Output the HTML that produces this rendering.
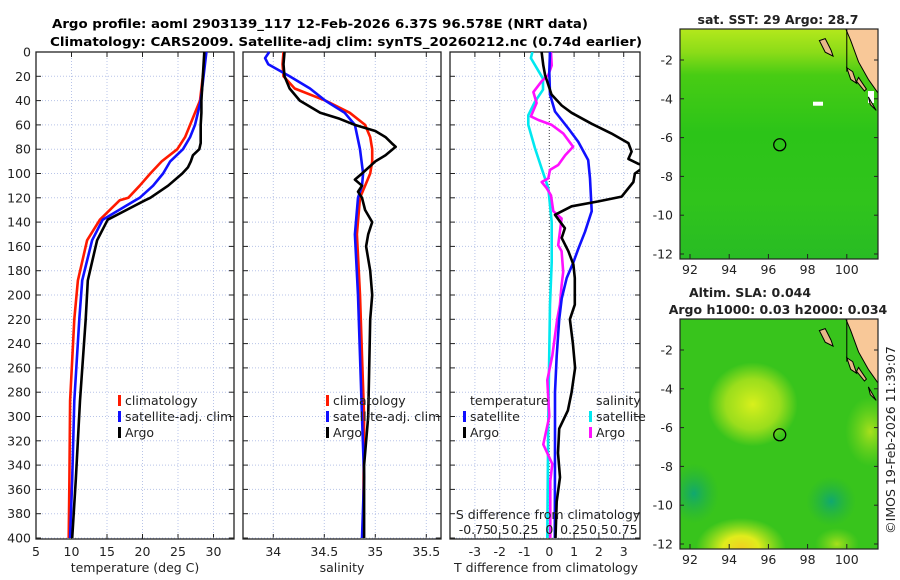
<!DOCTYPE html>
<html><head><meta charset="utf-8">
<style>
html,body{margin:0;padding:0;background:#fff;}
svg{display:block;font-family:"DejaVu Sans","Liberation Sans",sans-serif;}
</style></head>
<body>
<svg id="fig" width="900" height="580" viewBox="0 0 900 580" xmlns="http://www.w3.org/2000/svg">
<defs>
<linearGradient id="sstGrad" x1="0" y1="0" x2="0" y2="1">
<stop offset="0" stop-color="#b4e81c"/><stop offset="0.1" stop-color="#8cdc18"/>
<stop offset="0.2" stop-color="#48cc14"/><stop offset="0.45" stop-color="#2cc418"/>
<stop offset="0.75" stop-color="#30c41c"/><stop offset="1" stop-color="#28bc24"/>
</linearGradient>
<radialGradient id="blobA" cx="0.5" cy="0.5" r="0.5"><stop offset="0" stop-color="#d8f01c"/><stop offset="0.6" stop-color="#b4e41c" stop-opacity="0.8"/><stop offset="1" stop-color="#b4e41c" stop-opacity="0"/></radialGradient>
<radialGradient id="blobB" cx="0.5" cy="0.5" r="0.5"><stop offset="0" stop-color="#f0d020"/><stop offset="0.4" stop-color="#e0ec1c"/><stop offset="1" stop-color="#c0e81c" stop-opacity="0"/></radialGradient>
<radialGradient id="blobC" cx="0.5" cy="0.5" r="0.5"><stop offset="0" stop-color="#10a870"/><stop offset="1" stop-color="#20b040" stop-opacity="0"/></radialGradient>
<radialGradient id="blobD" cx="0.5" cy="0.5" r="0.5"><stop offset="0" stop-color="#a8e01c"/><stop offset="1" stop-color="#80d81c" stop-opacity="0"/></radialGradient>
<clipPath id="clipTop"><rect x="680" y="29" width="198" height="230"/></clipPath>
<clipPath id="clipBot"><rect x="680" y="319" width="198" height="230"/></clipPath>
<clipPath id="clipP3"><rect x="450" y="52" width="190" height="487"/></clipPath>
</defs>
<text x="320" y="28" text-anchor="middle" font-size="12.6" font-weight="bold" textLength="536" lengthAdjust="spacingAndGlyphs">Argo profile: aoml 2903139_117 12-Feb-2026 6.37S 96.578E (NRT data)</text>
<text x="346" y="46" text-anchor="middle" font-size="12.6" font-weight="bold" textLength="592" lengthAdjust="spacingAndGlyphs">Climatology: CARS2009. Satellite-adj clim: synTS_20260212.nc (0.74d earlier)</text>
<g id="layer"></g>
<text transform="translate(895,440) rotate(-90)" text-anchor="middle" font-size="12.5" fill="#222">©IMOS 19-Feb-2026 11:39:07</text>
</svg>
<script>
// ---------- data ----------
const depthTemp = [0,40,50,60,70,75,80,85,90,95,100,110,120,122,138,155,188,220,287,352,400];
const tempArgo  = [28.7,28.3,28.3,28.2,28.2,28.2,28.0,27.1,26.8,26.4,25.6,23.6,21.1,20.4,15.1,13.6,12.3,12.0,11.2,10.6,10.1];
const depthClim = [0,40,50,60,70,80,90,100,110,120,122,138,155,188,220,287,352,400];
const tempClim  = [28.9,28.1,27.4,26.7,26.0,24.9,22.7,21.1,19.6,18.0,16.8,14.0,12.2,10.9,10.4,9.8,9.7,9.6];
const tempSat   = [29.0,28.2,27.8,27.4,26.7,25.7,23.9,22.9,21.5,19.6,19.0,14.4,12.9,11.5,11.1,10.4,10.1,9.8];

const depthSArgo = [0,10,20,30,40,50,55,60,65,70,75,78,85,90,100,105,110,115,120,130,140,150,160,180,200,220,260,300,340,400];
const salArgo    = [34.11,34.10,34.11,34.16,34.26,34.46,34.65,34.80,35.00,35.10,35.16,35.20,35.10,35.00,34.87,34.80,34.87,34.83,34.87,34.90,34.97,34.93,34.91,34.95,34.97,34.95,34.94,34.93,34.89,34.89];
const depthSClim = [0,10,20,30,40,50,60,70,80,90,100,110,120,150,200,250,300,400];
const salClim    = [34.10,34.09,34.10,34.21,34.51,34.75,34.90,34.95,34.97,34.97,34.95,34.90,34.85,34.82,34.85,34.87,34.89,34.88];
const depthSSat  = [0,5,10,20,30,40,50,60,80,100,110,120,150,200,250,300,350,400];
const salSat     = [33.96,33.92,33.95,34.16,34.36,34.51,34.70,34.80,34.85,34.88,34.87,34.83,34.80,34.83,34.85,34.87,34.89,34.87];

const depthDTArgo = [0,11,19,35,44,50,59,67,75,82,88,92,94,100,107,119,123,127,134,145,153,164,175,186,208,220,240,260,280,295,310,330,350,370,400];
const dTArgo      = [-0.31,-0.24,-0.17,0.09,0.5,0.9,1.7,2.5,3.19,3.32,3.19,3.59,3.86,3.45,3.39,2.92,1.98,0.9,0.23,0.63,0.5,0.77,0.97,1.03,1.03,0.83,0.95,1.04,0.9,0.75,0.4,0.35,0.43,0.3,0.25];
const depthDTSat  = [0,16,35,49,63,74,89,104,131,148,162,173,186,203,220,250,280,320,400];
const dTSat       = [0.03,0,0.03,0.23,0.77,1.17,1.57,1.64,1.71,1.44,1.17,0.97,0.7,0.5,0.4,0.3,0.23,0.23,0.22];
const depthDSSat  = [0,5,13,22,31,41,52,60,79,96,112,140,173,208,300,400];
const dSSat       = [-0.17,-0.185,-0.128,-0.064,-0.064,-0.145,-0.212,-0.212,-0.145,-0.077,-0.01,0.024,0.024,0.007,-0.01,-0.02];
const depthDSArgo = [0,11,19,24,33,42,53,56,60,67,78,85,93,97,104,107,112,118,131,137,148,159,164,181,192,208,220,250,270,300,323,339,353,400];
const dSArgo      = [0.017,0.024,-0.01,-0.077,-0.16,-0.128,-0.185,-0.11,0.024,0.14,0.24,0.16,0.09,0.007,-0.01,-0.077,-0.027,0.017,0.04,0.124,0.107,0.09,0.124,0.14,0.124,0.107,0.08,0.03,-0.02,0.0,-0.06,0.03,0.01,0.01];

const depthTicks = [0,20,40,60,80,100,120,140,160,180,200,220,240,260,280,300,320,340,360,380,400];
const tempTicks = [5,10,15,20,25,30];
const salTicks = [34,34.5,35,35.5];
const dTTicks = [-3,-2,-1,0,1,2,3];
const dSTickLabels = ["-0.75","0.5","0.25","0","0.25","0.5","0.75"];
const dSTickVals = [-0.75,-0.5,-0.25,0,0.25,0.5,0.75];
const lonTicks = [92,94,96,98,100];
const latTicks = [-2,-4,-6,-8,-10,-12];
const argoLon = 96.578, argoLat = -6.37;

// ---------- scales ----------
const NS="http://www.w3.org/2000/svg";
const L=document.getElementById('layer');
function mk(tag,attrs,parent){const e=document.createElementNS(NS,tag);for(const k in attrs)e.setAttribute(k,attrs[k]);(parent||L).appendChild(e);return e;}
const Y0=52, Y1=539;
const yD=d=>52+d*1.215;
const xT=t=>36+(t-5)*7.1;
const xS=s=>273.3+(s-34)*102;
const xDT=t=>549.3+t*24.8;
const xDS=s=>549.3+s*99.2;
const lonX=lo=>690+(lo-92)*19.6;
const latYTop=la=>60+(-2-la)*19.4;
const latYBot=la=>350+(-2-la)*19.4;

function panel(x0,x1,name,xticksPx,showY){
  const g=mk('g',{});
  
  
  xticksPx.forEach(px=>{const l=mk('line',{x1:px,x2:px,y1:Y0,y2:Y1,stroke:'#b8c4e8','stroke-width':1,'stroke-dasharray':'1,2'},g);
    
    mk('line',{x1:px,x2:px,y1:Y1,y2:Y1-5,stroke:'#222'},g);mk('line',{x1:px,x2:px,y1:Y0,y2:Y0+5,stroke:'#222'},g);});
  depthTicks.forEach(d=>{const y=yD(d);const l=mk('line',{x1:x0,x2:x1,y1:y,y2:y,stroke:'#b8c4e8','stroke-width':1,'stroke-dasharray':'1,2'},g);
    
    mk('line',{x1:x0,x2:x0+5,y1:y,y2:y,stroke:'#222'},g);mk('line',{x1:x1,x2:x1-5,y1:y,y2:y,stroke:'#222'},g);
    if(showY){const t=mk('text',{x:x0-5,y:y+4.5,'text-anchor':'end','font-size':12.5,fill:'#222'},g);t.textContent=d;
      }});
  const r=mk('rect',{x:x0,y:Y0,width:x1-x0,height:Y1-Y0,fill:'none',stroke:'#222','stroke-width':1.3},g);
  
  return g;
}
function line(xs,ds,xf,color,name,parent,clip){
  const p=xs.map((v,i)=>(i?'L':'M')+xf(v).toFixed(1)+','+yD(ds[i]).toFixed(1)).join(' ');
  const e=mk('path',{d:p,fill:'none',stroke:color,'stroke-width':2.6,'stroke-linejoin':'round'},parent);
  if(clip)e.setAttribute('clip-path',clip);
  
  
}
function txt(x,y,s,attrs,name){const t=mk('text',Object.assign({x:x,y:y,'font-size':12.5,fill:'#222'},attrs||{}));t.textContent=s;
  return t;}
function legend(x,y,color,label,name){const b=mk('rect',{x:x,y:y-10,width:3,height:11,fill:color});
  
  txt(x+7,y,label,{},name);}

// panel 1
const p1=panel(36,234,'temperature-panel',tempTicks.map(xT),true);
tempTicks.forEach(t=>txt(xT(t),556,String(t),{'text-anchor':'middle'},'temperature-tick-label'));
txt(135,572,'temperature (deg C)',{'text-anchor':'middle'},'temperature-axis-title');
line(tempClim,depthClim,xT,'#ff1a00','temperature-climatology-line',p1);
line(tempSat,depthClim,xT,'#1010ff','temperature-satellite-line',p1);
line(tempArgo,depthTemp,xT,'#000','temperature-argo-line',p1);
legend(118,405,'#ff1a00','climatology','legend-climatology');
legend(118,421,'#1010ff','satellite-adj. clim','legend-satellite');
legend(118,437,'#000','Argo','legend-argo');

// panel 2
const p2=panel(243,441,'salinity-panel',salTicks.map(xS),false);
salTicks.forEach(s=>txt(xS(s),556,String(s),{'text-anchor':'middle'},'salinity-tick-label'));
txt(342,572,'salinity',{'text-anchor':'middle'},'salinity-axis-title');
line(salClim,depthSClim,xS,'#ff1a00','salinity-climatology-line',p2);
line(salSat,depthSSat,xS,'#1010ff','salinity-satellite-line',p2);
line(salArgo,depthSArgo,xS,'#000','salinity-argo-line',p2);
legend(326,405,'#ff1a00','climatology','legend-climatology-2');
legend(326,421,'#1010ff','satellite-adj. clim','legend-satellite-2');
legend(326,437,'#000','Argo','legend-argo-2');

// panel 3
const p3=panel(450,640,'difference-panel',dTTicks.map(xDT),false);
const z=mk('line',{x1:xDT(0),x2:xDT(0),y1:Y0,y2:Y1,stroke:'#444','stroke-width':1,'stroke-dasharray':'1,2'},p3);

dTTicks.forEach(t=>txt(xDT(t),556,String(t),{'text-anchor':'middle'},'t-diff-tick-label'));
txt(546,572,'T difference from climatology',{'text-anchor':'middle'},'t-diff-axis-title');
line(dSSat,depthDSSat,xDS,'#00e8f0','salinity-diff-satellite-line',p3,'url(#clipP3)');
line(dSArgo,depthDSArgo,xDS,'#ff10ff','salinity-diff-argo-line',p3,'url(#clipP3)');
line(dTSat,depthDTSat,xDT,'#1010ff','temp-diff-satellite-line',p3,'url(#clipP3)');
line(dTArgo,depthDTArgo,xDT,'#000','temp-diff-argo-line',p3,'url(#clipP3)');
txt(548,519,'S difference from climatology',{'text-anchor':'middle'},'s-diff-axis-title');
dSTickVals.forEach((v,i)=>txt(xDS(v),534,dSTickLabels[i],{'text-anchor':'middle'},'s-diff-tick-label'));
txt(470,405,'temperature',{},'legend-temperature-header');
legend(463,421,'#1010ff','satellite','legend-temp-satellite');
legend(463,437,'#000','Argo','legend-temp-argo');
txt(596,405,'salinity',{},'legend-salinity-header');
legend(589,421,'#00e8f0','satellite','legend-sal-satellite');
legend(589,437,'#ff10ff','Argo','legend-sal-argo');

// maps
function map(top,latY,name,bgFn){
  const g=mk('g',{});
  
  
  const clip=top<100?'url(#clipTop)':'url(#clipBot)';
  const inner=mk('g',{'clip-path':clip},g);
  bgFn(inner,latY);
  const land=mk('path',{d:`M${lonX(99.95)},${top} L878,${top} L878,${latY(-3.7)} L${lonX(101.1)},${latY(-3.0)} L${lonX(100.6)},${latY(-2.1)} L${lonX(100.2)},${latY(-1.0)} Z`,fill:'#f8c898',stroke:'#000','stroke-width':1},inner);
  
  const isl=mk('path',{d:`M${lonX(98.6)},${latY(-1.0)} L${lonX(98.9)},${latY(-0.9)} L${lonX(99.2)},${latY(-1.5)} L${lonX(99.3)},${latY(-1.8)} L${lonX(98.9)},${latY(-1.6)} Z M${lonX(100.0)},${latY(-2.4)} L${lonX(100.3)},${latY(-2.6)} L${lonX(100.5)},${latY(-3.2)} L${lonX(100.2)},${latY(-3.0)} Z M${lonX(100.6)},${latY(-2.9)} L${lonX(101.0)},${latY(-3.5)} L${lonX(100.9)},${latY(-3.6)} L${lonX(100.5)},${latY(-3.1)} Z M${lonX(101.1)},${latY(-3.9)} L${lonX(101.5)},${latY(-4.6)} L${lonX(101.2)},${latY(-4.3)} Z`,fill:'#e8b888',stroke:'#000','stroke-width':1},inner);
  
  mk('line',{x1:lonX(100),x2:lonX(100),y1:top,y2:latY(-2.6),stroke:'#000','stroke-width':1},inner);
  const c=mk('circle',{cx:lonX(argoLon),cy:latY(argoLat),r:6,fill:'none',stroke:'#000','stroke-width':1.3},g);
  
  const fr=mk('rect',{x:680,y:top,width:198,height:230,fill:'none',stroke:'#222','stroke-width':1.2},g);
  
  lonTicks.forEach(lo=>{const x=lonX(lo);mk('line',{x1:x,x2:x,y1:top+230,y2:top+225,stroke:'#222'},g);
    txt(x,top+230+15,String(lo),{'text-anchor':'middle'},'longitude-tick-label');});
  latTicks.forEach(la=>{const y=latY(la);mk('line',{x1:680,x2:684,y1:y,y2:y,stroke:'#222'},g);mk('line',{x1:878,x2:874,y1:y,y2:y,stroke:'#222'},g);
    txt(673,y+4.5,String(la),{'text-anchor':'end'},'latitude-tick-label');});
}
map(29,latYTop,'sst-map',(g,latY)=>{
  mk('rect',{x:680,y:29,width:198,height:230,fill:'url(#sstGrad)'},g);
  mk('rect',{x:813,y:latY(-4.15),width:10,height:4,fill:'#fff'},g);
  mk('rect',{x:868,y:latY(-3.6),width:6,height:12,fill:'#fff'},g);
});
map(319,latYBot,'sla-map',(g,latY)=>{
  mk('rect',{x:680,y:319,width:198,height:230,fill:'#38c41c'},g);
  mk('ellipse',{cx:lonX(95.2),cy:latY(-4.8),rx:45,ry:42,fill:'url(#blobA)'},g);
  mk('ellipse',{cx:lonX(94.6),cy:latY(-12.2),rx:45,ry:30,fill:'url(#blobB)'},g);
  mk('ellipse',{cx:lonX(92.2),cy:latY(-9.4),rx:25,ry:30,fill:'url(#blobC)'},g);
  mk('ellipse',{cx:lonX(99.2),cy:latY(-9.8),rx:25,ry:25,fill:'url(#blobC)'},g);
  mk('ellipse',{cx:lonX(101.2),cy:latY(-6.2),rx:25,ry:35,fill:'url(#blobD)'},g);
  mk('ellipse',{cx:lonX(99.5),cy:latY(-12),rx:22,ry:16,fill:'url(#blobD)'},g);
});
txt(778,24,'sat. SST: 29 Argo: 28.7',{'text-anchor':'middle','font-weight':'bold'},'sst-map-title');
txt(750,297,'Altim. SLA: 0.044',{'text-anchor':'middle','font-weight':'bold'},'sla-map-title');
txt(778,314,'Argo h1000: 0.03 h2000: 0.034',{'text-anchor':'middle','font-weight':'bold'},'sla-map-subtitle');
</script>
</body></html>
